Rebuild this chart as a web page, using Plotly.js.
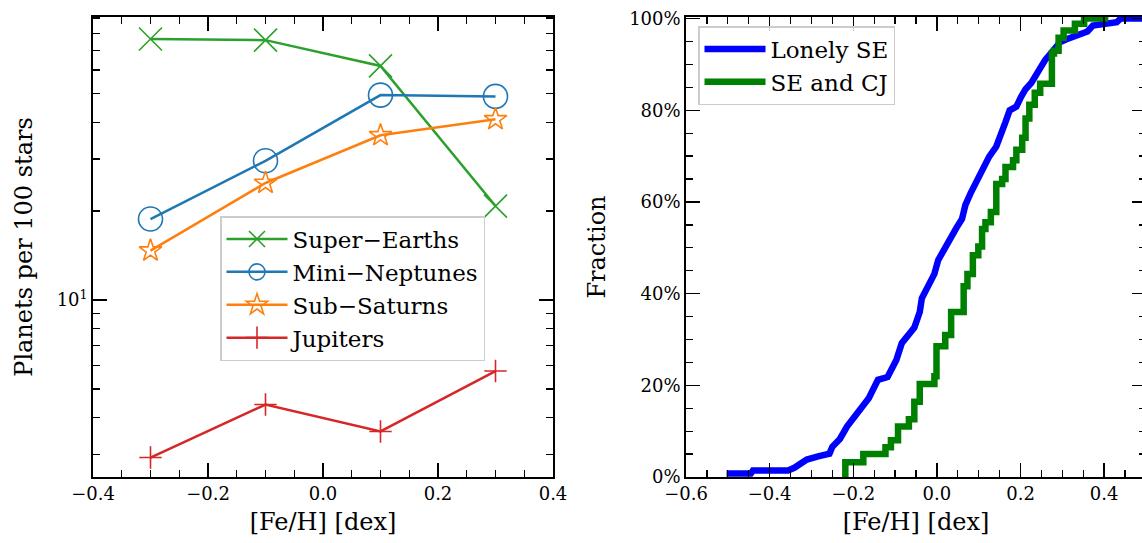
<!DOCTYPE html>
<html>
<head>
<meta charset="utf-8">
<script src="https://cdn.plot.ly/plotly-3.0.1.min.js"></script>
<style>
  html, body { margin: 0; padding: 0; overflow: hidden; background: #ffffff; }
  #chart { width: 1150px; height: 543px; }
</style>
</head>
<body>
<div id="chart"></div>
<script>
// Occurrence rate vs metallicity (left panel)
const fehBins = [-0.3, -0.1, 0.1, 0.3];
const superEarths = [76.5, 75.8, 62.0, 20.8];
const miniNeptunes = [18.8, 29.6, 49.4, 48.9];
const subSaturns = [14.7, 24.9, 36.1, 40.9];
const jupiters = [2.93, 4.43, 3.59, 5.75];

// Cumulative metallicity distributions (right panel)
const lonelyFeH = [-0.503, -0.445, -0.440, -0.356, -0.341, -0.311, -0.284, -0.257, -0.250, -0.232,
  -0.215, -0.189, -0.163, -0.141, -0.118, -0.097, -0.084, -0.054, -0.041, -0.036,
  -0.023, -0.006, 0.003, 0.020, 0.034, 0.047, 0.060, 0.068, 0.081, 0.099,
  0.116, 0.125, 0.142, 0.156, 0.164, 0.174, 0.190, 0.201, 0.212, 0.226,
  0.247, 0.259, 0.275, 0.295, 0.310, 0.335, 0.360, 0.373, 0.404, 0.430, 0.439, 0.520];
const lonelyFrac = [0.0075, 0.0075, 0.014, 0.014, 0.020, 0.038, 0.045, 0.051, 0.066, 0.083,
  0.110, 0.140, 0.172, 0.212, 0.218, 0.255, 0.292, 0.326, 0.360, 0.390,
  0.416, 0.443, 0.473, 0.503, 0.526, 0.544, 0.563, 0.593, 0.620, 0.654,
  0.680, 0.699, 0.721, 0.751, 0.774, 0.800, 0.808, 0.829, 0.846, 0.860,
  0.894, 0.910, 0.927, 0.949, 0.955, 0.964, 0.972, 0.985, 0.989, 0.992, 1.0, 1.0];

const cjFeH = [-0.219, -0.219, -0.176, -0.123, -0.110, -0.093, -0.067, -0.054, -0.041, -0.006,
  -0.001, 0.020, 0.034, 0.064, 0.073, 0.086, 0.099, 0.108, 0.116, 0.129,
  0.142, 0.156, 0.164, 0.182, 0.190, 0.204, 0.212, 0.221, 0.234, 0.247,
  0.275, 0.280, 0.291, 0.303, 0.330, 0.352, 0.410];
const cjFrac = [0, 0.032, 0.050, 0.065, 0.080, 0.110, 0.126, 0.164, 0.203, 0.220,
  0.285, 0.310, 0.360, 0.416, 0.443, 0.484, 0.503, 0.541, 0.556, 0.578,
  0.639, 0.650, 0.676, 0.691, 0.714, 0.740, 0.782, 0.812, 0.838, 0.858,
  0.924, 0.930, 0.958, 0.974, 0.989, 1.0, 1.0];

const yTickVals = [10];
const yTickText = ['10<sup>1</sup>'];
const yMinorVals = [3, 4, 5, 6, 7, 8, 9, 20, 30, 40, 50, 60, 70, 80, 90];

const FONT = 'DejaVu Serif';
const W = 1150, H = 543;
const M = {l: 93, r: 4, t: 17, b: 66};
const PW = W - M.l - M.r, PH = H - M.t - M.b;
const px2x = p => (p - M.l) / PW;
const py2y = p => 1 - (p - M.t) / PH;

function series(name, y, color, symbol, size, group) {
  return {
    x: fehBins, y: y, name: name, type: 'scatter', mode: 'lines+markers',
    xaxis: 'x', yaxis: 'y', legend: 'legend', legendgroup: group,
    line: {color: color, width: 2.5},
    marker: {symbol: symbol, size: size, color: color, line: {color: color, width: 1.6}}
  };
}

const traces = [
  series('Super\u2212Earths', superEarths, '#2ca02c', 'x-thin-open', 23, 'a'),
  series('Mini\u2212Neptunes', miniNeptunes, '#1f77b4', 'circle-open', 24, 'b'),
  series('Sub\u2212Saturns', subSaturns, '#ff7f0e', 'star-open', 17, 'c'),
  series('Jupiters', jupiters, '#d62728', 'cross-thin-open', 16, 'd'),
  {
    x: lonelyFeH, y: lonelyFrac, name: 'Lonely SE', type: 'scatter', mode: 'lines',
    xaxis: 'x2', yaxis: 'y2', legend: 'legend2', legendgroup: 'e',
    line: {color: '#0000ff', width: 6.5}
  },
  {
    x: cjFeH, y: cjFrac, name: 'SE and CJ', type: 'scatter', mode: 'lines',
    xaxis: 'x2', yaxis: 'y2', legend: 'legend2', legendgroup: 'f',
    line: {color: '#008000', width: 6.5, shape: 'hv'}
  }
];

const axisBase = {
  showgrid: false, zeroline: false, showline: true, linecolor: 'black', linewidth: 1.8,
  mirror: 'allticks', ticks: 'inside', ticklen: 14, tickwidth: 1.5, tickcolor: 'black',
  tickfont: {family: FONT, size: 18, color: 'black'}, automargin: false
};

const xMinor = {ticks: 'inside', ticklen: 7, tickwidth: 1.3, tickcolor: 'black', dtick: 0.05, showgrid: false};
const titleFont = {family: FONT, size: 24, color: 'black'};

const layout = {
  width: W, height: H, margin: M,
  paper_bgcolor: 'white', plot_bgcolor: 'white',
  font: {family: FONT, color: 'black'},
  showlegend: true,
  xaxis: Object.assign({}, axisBase, {
    domain: [0, 460 / PW], range: [-0.4, 0.4], tick0: 0, dtick: 0.2, tickformat: '.1f',
    minor: xMinor, anchor: 'y',
    title: {text: '[Fe/H] [dex]', font: titleFont, standoff: 10}
  }),
  yaxis: Object.assign({}, axisBase, {
    type: 'log', range: [0.401, 1.958], tickmode: 'array', tickvals: yTickVals, ticktext: yTickText,
    minor: {tickvals: yMinorVals, ticks: 'inside', ticklen: 7, tickwidth: 1.3, tickcolor: 'black', showgrid: false},
    anchor: 'x',
    title: {text: 'Planets per 100 stars', font: titleFont, standoff: 17}
  }),
  xaxis2: Object.assign({}, axisBase, {
    domain: [px2x(686), 1], range: [-0.6, 0.5], tick0: 0, dtick: 0.2, tickformat: '.1f',
    minor: xMinor, anchor: 'y2',
    title: {text: '[Fe/H] [dex]', font: titleFont, standoff: 10}
  }),
  yaxis2: Object.assign({}, axisBase, {
    range: [0, 1.0035], tick0: 0, dtick: 0.2, tickformat: '.0%',
    minor: {ticks: 'inside', ticklen: 7, tickwidth: 1.3, tickcolor: 'black', dtick: 0.05, showgrid: false},
    anchor: 'x2',
    title: {text: 'Fraction', font: titleFont, standoff: 17}
  }),
  legend: {
    x: px2x(220), y: py2y(216), xanchor: 'left', yanchor: 'top',
    bgcolor: 'rgba(255,255,255,0.8)', bordercolor: '#cccccc', borderwidth: 1.5,
    font: {family: FONT, size: 23, color: 'black'}, itemwidth: 61, tracegroupgap: 0,
    traceorder: 'grouped', itemsizing: 'trace'
  },
  legend2: {
    x: px2x(698), y: py2y(26), xanchor: 'left', yanchor: 'top',
    bgcolor: 'rgba(255,255,255,0.8)', bordercolor: '#cccccc', borderwidth: 1.5,
    font: {family: FONT, size: 23, color: 'black'}, itemwidth: 61, tracegroupgap: 0,
    traceorder: 'grouped'
  }
};

Plotly.newPlot('chart', traces, layout, {displayModeBar: false, staticPlot: true});
</script>
</body>
</html>
